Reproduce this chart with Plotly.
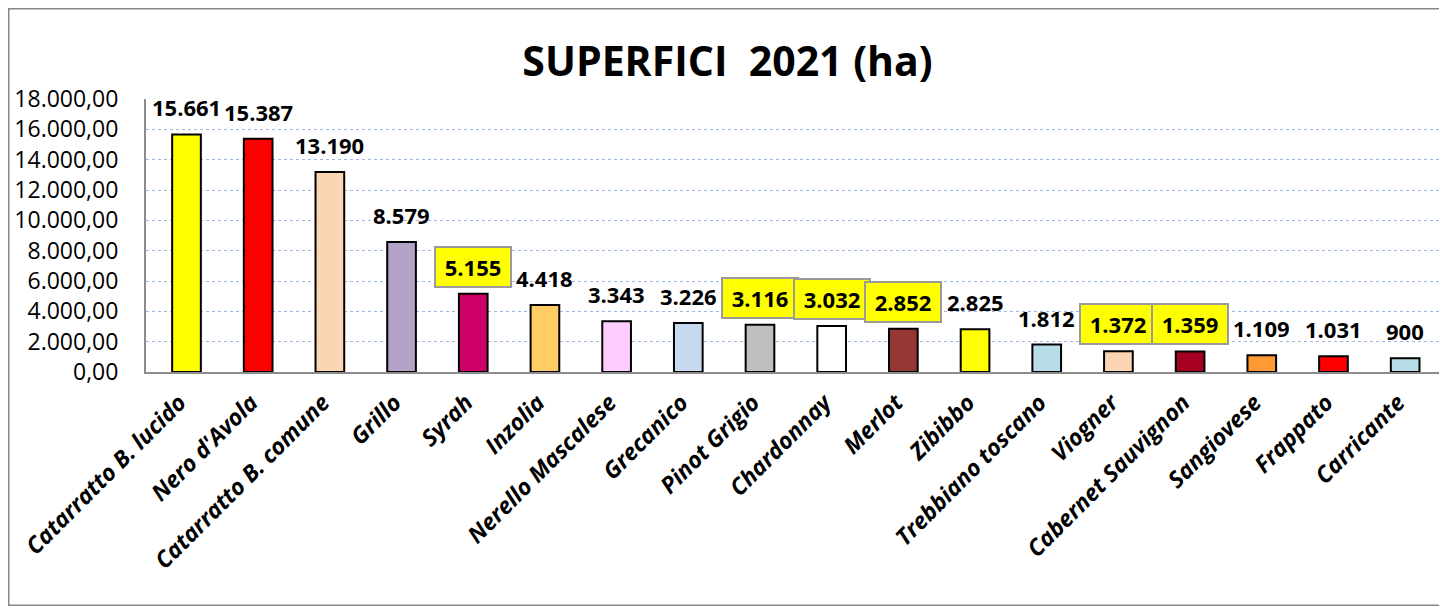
import plotly.graph_objects as go

categories = ["Catarratto B. lucido", "Nero d'Avola", "Catarratto B. comune", "Grillo", "Syrah",
              "Inzolia", "Nerello Mascalese", "Grecanico", "Pinot Grigio", "Chardonnay", "Merlot",
              "Zibibbo", "Trebbiano toscano", "Viogner", "Cabernet Sauvignon", "Sangiovese",
              "Frappato", "Carricante"]
values = [15661, 15387, 13190, 8579, 5155, 4418, 3343, 3226, 3116, 3032, 2852, 2825,
          1812, 1372, 1359, 1109, 1031, 900]
bar_colors = ["#FFFF00", "#FF0000", "#FCD5B5", "#B3A2C7", "#CC0066", "#FFCC66", "#FFCCFF",
              "#C6D9F1", "#BFBFBF", "#FFFFFF", "#953735", "#FFFF00", "#B7DEE8", "#FCD5B5",
              "#A50021", "#FF9933", "#FF0000", "#B7DEE8"]
highlighted = ["Syrah", "Pinot Grigio", "Chardonnay", "Merlot", "Viogner", "Cabernet Sauvignon"]
y_ticks = list(range(0, 18001, 2000))

FONT = "Open Sans"

# page body has an 8px margin, so the figure is sized to the remaining window
W, H = 1439, 598
L, R, T, B = 138, 6, 91, 234
PW, PH = W - L - R, H - T - B

fig = go.Figure()
fig.add_trace(go.Bar(
    x=categories, y=values,
    marker=dict(color=bar_colors, line=dict(color="#000000", width=2)),
    width=0.4, hoverinfo="x+y",
))

for c, v in zip(categories, values):
    label = f"{v:,}".replace(",", ".")
    box = c in highlighted
    extra = dict(width=62, height=26) if box else {}
    fig.add_annotation(
        x=c, y=v, yshift=27, yanchor="middle", xanchor="center",
        text=f"<b>{label}</b>", showarrow=False,
        font=dict(family=FONT, size=22, color="#000000"),
        bgcolor="#FFFF00" if box else "rgba(0,0,0,0)",
        bordercolor="#9A9A9A" if box else "rgba(0,0,0,0)",
        borderwidth=2 if box else 0, borderpad=6,
        **extra,
    )

# outer chart border
fig.add_shape(type="rect", xref="paper", yref="paper",
              x0=(0.75 - L) / PW, x1=1.0, y0=(H - B - (H - 0.75)) / PH, y1=(H - B - 0.75) / PH,
              line=dict(color="#878787", width=1.5), fillcolor="rgba(0,0,0,0)", layer="below")

fig.update_layout(
    width=W, height=H,
    margin=dict(l=L, r=R, t=T, b=B),
    paper_bgcolor="#FFFFFF", plot_bgcolor="#FFFFFF",
    separators=",.",
    showlegend=False,
    title=dict(text="<b>SUPERFICI&nbsp; 2021 (ha)</b>", x=0.5, xanchor="center",
               y=1 - 54 / H, yanchor="middle", yref="container",
               font=dict(family=FONT, size=41, color="#000000")),
    font=dict(family=FONT, color="#000000"),
)
fig.update_xaxes(
    type="category", tickangle=-45, showgrid=False,
    showline=True, linecolor="#8C8C8C", linewidth=2,
    tickfont=dict(family=FONT, size=23, color="#000000", weight="bold", style="italic"),
    ticks="", ticklabelstandoff=6, ticklabelshift=-7,
)
fig.update_yaxes(
    range=[0, 18000], tickvals=y_ticks, tickformat=",.2f",
    showgrid=True, gridcolor="#9DB8E3", griddash="dot", gridwidth=1,
    showline=True, linecolor="#8C8C8C", linewidth=2, zeroline=False,
    tickfont=dict(family=FONT, size=23, color="#000000"),
    ticks="", ticklabelstandoff=21,
)

fig.write_html("out.html")
